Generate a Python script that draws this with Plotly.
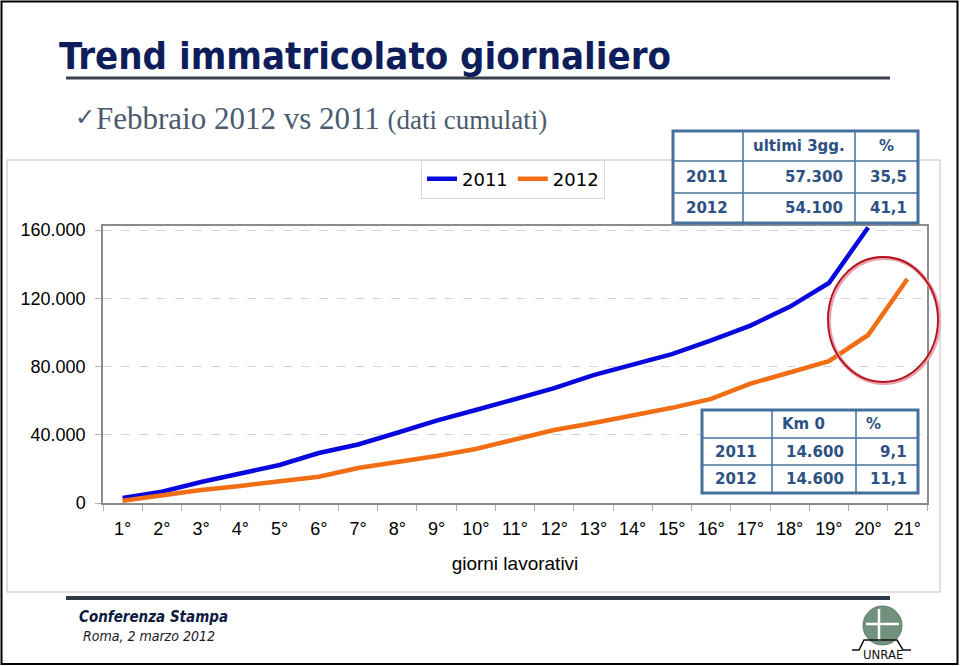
import plotly.graph_objects as go

# ---------------- data ----------------
days = ["1°", "2°", "3°", "4°", "5°", "6°", "7°", "8°", "9°", "10°", "11°",
        "12°", "13°", "14°", "15°", "16°", "17°", "18°", "19°", "20°", "21°"]
cum_2011 = [2900, 6600, 12300, 17500, 22300, 29300, 34300, 41200, 48300, 54500,
            61000, 67300, 75000, 81300, 87300, 95300, 104000, 115000, 129000, 161500]
cum_2012 = [1300, 4700, 7600, 10000, 12900, 15400, 20500, 24000, 27600, 31700,
            37000, 42800, 46900, 51300, 55800, 61000, 70000, 76500, 83200, 98500, 131300]
series_names = ["2011", "2012"]
y_tickvals = [0, 40000, 80000, 120000, 160000]
y_ticktext = ["0", "40.000", "80.000", "120.000", "160.000"]

table1_header = ["", "ultimi 3gg.", "%"]
table1_rows = [["2011", "57.300", "35,5"], ["2012", "54.100", "41,1"]]
table2_header = ["", "Km 0", "%"]
table2_rows = [["2011", "14.600", "9,1"], ["2012", "14.600", "11,1"]]

title_text = "Trend immatricolato giornaliero"
subtitle_main = "Febbraio 2012 vs 2011"
subtitle_small = "(dati cumulati)"
x_title = "giorni lavorativi"
footer1 = "Conferenza Stampa"
footer2 = "Roma, 2 marzo 2012"

# ---------------- geometry helpers ----------------
W, H = 960, 666
L, R, T, B = 103, 927, 226, 503


def fx(x):
    return (x - L) / (R - L)


def fy(y):
    return (B - y) / (B - T)


BLUE = "#0808DC"
ORANGE = "#F26E14"
NAVY = "#0E1E5B"
TBL_LINE = "#46709E"
TBL_TEXT = "#2E5183"

fig = go.Figure()
fig.add_trace(go.Scatter(x=days[:len(cum_2011)], y=cum_2011, mode="lines",
                         name=series_names[0], line=dict(color=BLUE, width=4.5)))
fig.add_trace(go.Scatter(x=days, y=cum_2012, mode="lines",
                         name=series_names[1], line=dict(color=ORANGE, width=4.5)))

shapes = []
annos = []


def rect(x0, y0, x1, y1, color, width, fill=None, layer="above"):
    shapes.append(dict(type="rect", xref="paper", yref="paper",
                       x0=fx(x0), x1=fx(x1), y0=fy(y1), y1=fy(y0),
                       line=dict(color=color, width=width),
                       fillcolor=fill if fill else "rgba(0,0,0,0)", layer=layer))


def hline(x0, x1, y, color, width, layer="above"):
    shapes.append(dict(type="line", xref="paper", yref="paper",
                       x0=fx(x0), x1=fx(x1), y0=fy(y), y1=fy(y),
                       line=dict(color=color, width=width), layer=layer))


def vline(x, y0, y1, color, width, layer="above"):
    shapes.append(dict(type="line", xref="paper", yref="paper",
                       x0=fx(x), x1=fx(x), y0=fy(y0), y1=fy(y1),
                       line=dict(color=color, width=width), layer=layer))


def text(x, y, s, size, color, family, anchor="left", **kw):
    annos.append(dict(xref="paper", yref="paper", x=fx(x), y=fy(y), text=s,
                      showarrow=False, xanchor=anchor, yanchor="middle",
                      font=dict(size=size, color=color, family=family), **kw))


# slide border and chart frame
rect(1.5, 1.5, 957.5, 664, "#000000", 2, layer="below")
rect(7, 160, 940, 592, "#D6D6D6", 1.5, layer="below")

# title + rule
text(57, 56, "<b>" + title_text + "</b>", 38, NAVY, "DejaVu Sans Condensed, DejaVu Sans")
hline(66, 890, 78, "#3B414C", 3)
# subtitle
text(73, 117, "✓", 24, "#4B5A6E", "DejaVu Sans")
text(94, 118, subtitle_main + " <span style='font-size:27px'>" + subtitle_small + "</span>",
     31, "#4B5A6E", "Liberation Serif")

# footer
hline(66, 890, 598, "#2C3846", 4)
text(77, 617, "<b><i>" + footer1 + "</i></b>", 15, "#0D1A40", "DejaVu Sans Condensed, DejaVu Sans")
text(81, 636, "<i>" + footer2 + "</i>", 14, "#1A1A2A", "DejaVu Sans Condensed, DejaVu Sans")

# logo (approximation)
shapes.append(dict(type="circle", xref="paper", yref="paper",
                   x0=fx(863), x1=fx(902), y0=fy(645), y1=fy(606),
                   fillcolor="#71907E", line=dict(color="#5E7C6A", width=1), layer="above"))
vline(879, 609, 641, "#FFFFFF", 2.5)
hline(866, 899, 624, "#FFFFFF", 2.5)
pts = [(852, 650), (859, 650), (864, 640), (897, 640), (903, 650), (911, 650)]
path = "M " + " L ".join(f"{fx(a):.5f},{fy(b):.5f}" for a, b in pts)
shapes.append(dict(type="path", xref="paper", yref="paper", path=path,
                   line=dict(color="#111111", width=1.5), layer="above"))
text(883, 654, "UNRAE", 13, "#111111", "DejaVu Sans Condensed, DejaVu Sans", anchor="center")


# tables
def draw_table(xs, ys, header, rows, header_align):
    rect(xs[0], ys[0], xs[-1], ys[-1], TBL_LINE, 3, fill="#FFFFFF")
    for xv in xs[1:-1]:
        vline(xv, ys[0], ys[-1], TBL_LINE, 1.5)
    for yv in ys[1:-1]:
        hline(xs[0], xs[-1], yv, TBL_LINE, 1.5)
    fam = "DejaVu Sans"
    for j, h in enumerate(header):
        if not h:
            continue
        yc = (ys[0] + ys[1]) / 2
        if header_align[j] == "center":
            text((xs[j] + xs[j + 1]) / 2, yc, "<b>" + h + "</b>", 15, TBL_TEXT, fam, anchor="center")
        else:
            text(xs[j] + 8, yc, "<b>" + h + "</b>", 15, TBL_TEXT, fam, anchor="left")
    for i, row in enumerate(rows):
        yc = (ys[i + 1] + ys[i + 2]) / 2
        text(xs[0] + 11, yc, "<b>" + row[0] + "</b>", 15, TBL_TEXT, fam, anchor="left")
        text(xs[2] - 10, yc, "<b>" + row[1] + "</b>", 15, TBL_TEXT, fam, anchor="right")
        text(xs[3] - 9, yc, "<b>" + row[2] + "</b>", 15, TBL_TEXT, fam, anchor="right")


draw_table([673, 743, 855, 918], [131, 161, 193, 223], table1_header, table1_rows,
           ["left", "center", "center"])
draw_table([702, 772, 856, 918], [410, 438, 465, 493], table2_header, table2_rows,
           ["left", "left", "left"])

# red highlight ellipse
shapes.append(dict(type="circle", xref="paper", yref="paper",
                   x0=fx(829), x1=fx(939), y0=fy(383), y1=fy(258),
                   line=dict(color="#E7A3AA", width=4), layer="above"))
shapes.append(dict(type="circle", xref="paper", yref="paper",
                   x0=fx(828), x1=fx(938), y0=fy(382), y1=fy(257),
                   line=dict(color="#B3121F", width=1.8), layer="above"))

fig.update_layout(
    width=W, height=H,
    margin=dict(l=L, r=W - R, t=T, b=H - B),
    paper_bgcolor="white", plot_bgcolor="white",
    showlegend=True,
    legend=dict(orientation="h", x=fx(513), y=fy(179), xanchor="center", yanchor="middle",
                bgcolor="white", bordercolor="#D9D9D9", borderwidth=1,
                font=dict(size=18, family="DejaVu Sans", color="#000000"),
                itemwidth=30, tracegroupgap=0),
    shapes=shapes, annotations=annos,
    xaxis=dict(type="category", categoryorder="array", categoryarray=days,
               range=[-0.5, len(days) - 0.5], showgrid=False,
               showline=True, linecolor="#8C8C8C", linewidth=1.5, mirror=True,
               ticks="outside", tickson="boundaries", ticklen=6, tickcolor="#B0B0B0",
               tickfont=dict(size=18, family="Liberation Sans", color="#000000"),
               ticklabelstandoff=9,
               title=dict(text=x_title, standoff=18,
                          font=dict(size=19, family="Liberation Sans", color="#000000"))),
    yaxis=dict(range=[0, 162400], tickvals=y_tickvals, ticktext=y_ticktext,
               showgrid=True, gridcolor="#D4D4D4", griddash="dash", gridwidth=1,
               zeroline=False, showline=True, linecolor="#8C8C8C", linewidth=1.5, mirror=True,
               ticks="outside", ticklen=6, tickcolor="#B0B0B0",
               tickfont=dict(size=18, family="Liberation Sans", color="#000000"),
               ticklabelstandoff=6),
)

fig.write_html("out.html", config={"displayModeBar": False},
               post_script="document.body.style.margin='0';document.body.style.overflow='hidden';")
